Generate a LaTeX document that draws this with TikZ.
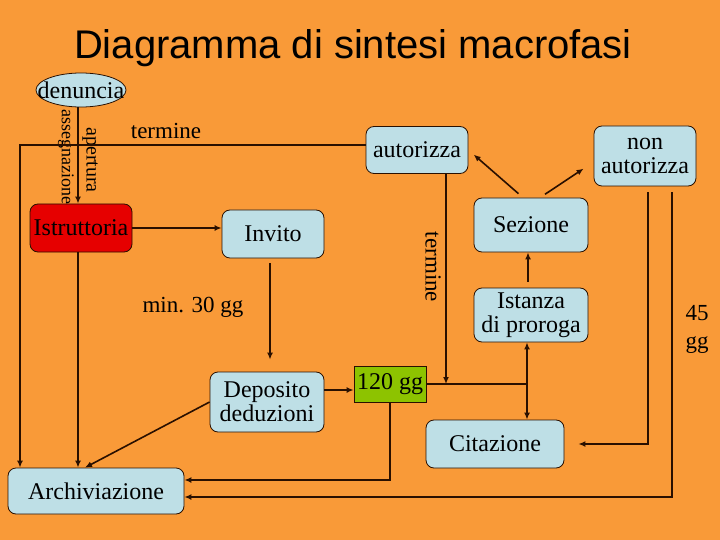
\documentclass[tikz,border=0pt]{standalone}
\usepackage{fontspec}
\setmainfont{Liberation Serif}
\newfontfamily\titlefont{Liberation Sans}
\usetikzlibrary{arrows.meta,shapes.geometric,calc}
\definecolor{bgor}{HTML}{F99A38}
\definecolor{lblue}{HTML}{BEDFE6}
\definecolor{boxred}{HTML}{E60000}
\definecolor{boxgreen}{HTML}{8DC300}
\definecolor{ink}{HTML}{2A1000}
\begin{document}
\begin{tikzpicture}[x=1pt,y=-1pt,
  box/.style={draw=ink,line width=0.8pt,rounded corners=8pt,fill=lblue,align=center,inner sep=0pt,font=\fontsize{24}{27}\selectfont},
  lbl/.style={font=\fontsize{23}{26}\selectfont,inner sep=0pt,text=black},
  conn/.style={draw=ink,line width=1.6pt},
  arr/.style={conn,-{Latex[length=7pt,width=6pt]}},
  darr/.style={conn,{Latex[length=7pt,width=6pt]}-{Latex[length=7pt,width=6pt]}}]
\fill[bgor] (0,0) rectangle (720,540);
\useasboundingbox (0,0) rectangle (720,540);
\node[font=\titlefont\fontsize{40}{44}\selectfont] (title) at (353,48) {Diagramma di sintesi macrofasi};
% nodes
\node[ellipse,draw=ink,line width=0.8pt,fill=lblue,minimum width=90pt,minimum height=34pt,inner sep=0pt] (den) at (81,90) {};
\node[inner sep=0pt,font=\fontsize{24}{27}\selectfont] (dentxt) at (den.center) {denuncia};
\node[box,fill=boxred,minimum width=102pt,minimum height=48pt] (ist) at (81,228) {Istruttoria};
\node[box,minimum width=102pt,minimum height=48pt] (inv) at (273,234) {Invito};
\node[box,minimum width=102pt,minimum height=47pt] (aut) at (417,150) {autorizza};
\node[box,minimum width=102pt,minimum height=60pt] (non) at (645,156) {non\\[-3pt]autorizza};
\node[box,minimum width=114pt,minimum height=54pt] (sez) at (531,225) {Sezione};
\node[box,minimum width=114pt,minimum height=54pt] (ista) at (531,315) {Istanza\\[-3pt]di proroga};
\node[box,minimum width=114pt,minimum height=60pt] (dep) at (267,402) {Deposito\\[-3pt]deduzioni};
\node[box,rounded corners=0pt,fill=boxgreen,minimum width=72pt,minimum height=36pt] (g120) at (390,384) {120 gg};
\node[box,minimum width=138pt,minimum height=48pt] (cit) at (495,444) {Citazione};
\node[box,minimum width=176pt,minimum height=46pt] (arch) at (96,491) {Archiviazione};
% labels
\node[lbl,rotate=-90,font=\fontsize{18}{20}\selectfont] (lass) at (66,157) {assegnazione};
\node[lbl,rotate=-90,font=\fontsize{20}{22}\selectfont] (lape) at (90,160) {apertura};
\node[lbl] (lter) at (166,131) {termine};
\node[lbl] (lmin) at (193,307) {min. 30 gg};
\node[lbl,rotate=-90] (lter2) at (433,267) {termine};
\node[lbl,align=center] (l45) at (697,329) {45\\[2pt]gg};
% coordinates
\coordinate (lt) at (20,145);
\coordinate (jn) at (446,384);
\coordinate (ja) at (527,384);
\coordinate (d1) at ([yshift=-6pt]g120.west);
% connectors
\draw[arr] ([xshift=-3pt]den.south) -- ([xshift=-3pt]ist.north);
\draw[arr] ([xshift=-3pt]ist.south) -- ([xshift=-3pt]ist.south |- arch.north);
\draw[arr] ([yshift=5pt]aut.west) -- (lt) -- (lt |- arch.north);
\draw[arr] (ist.east) -- (ist.east -| inv.west);
\draw[arr,shorten <=5pt,shorten >=12pt] ([xshift=-3pt]inv.south) -- ([xshift=-3pt]inv.south |- dep.north);
\draw[arr] (aut.south -| jn) -- (jn);
\draw[conn] (g120.east) -- (ja);
\draw[arr] (dep.east |- d1) -- (d1);
\draw[arr] (dep.west) -- ([xshift=-11pt]arch.north);
\draw[arr,shorten <=6pt] ([xshift=-3pt]ista.north) -- ([xshift=-3pt]sez.south);
\draw[darr] ([xshift=-4pt]ista.south) -- ([xshift=-4pt]ista.south |- cit.north);
\draw[arr,shorten <=6pt,shorten >=7pt] ([xshift=-8pt]sez.north) -- (aut.east);
\draw[arr,shorten <=6pt,shorten >=12pt] ([xshift=9pt]sez.north) -- ([yshift=-6pt]non.west);
\draw[arr,shorten >=14pt] ([xshift=3pt,yshift=-6pt]non.south) |- (cit.east);
\draw[arr] ([xshift=27pt,yshift=-6pt]non.south) |- ([yshift=-6pt]arch.east);
\draw[arr] (g120.south) |- ([yshift=11pt]arch.east);
\end{tikzpicture}
\end{document}
